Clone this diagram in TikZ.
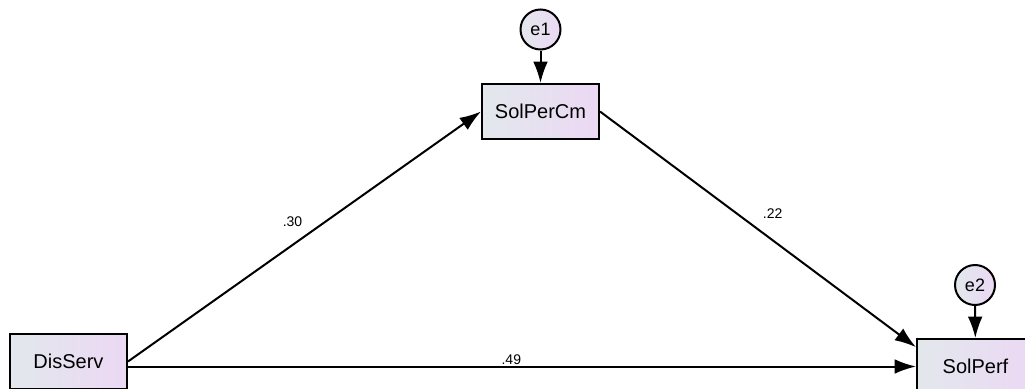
\documentclass[tikz,border=0pt]{standalone}
\usepackage{fontspec}
\setmainfont{Liberation Sans}
\usetikzlibrary{arrows.meta}
\definecolor{varleft}{RGB}{226,232,236}
\definecolor{varright}{RGB}{236,216,244}
\begin{document}
\begin{tikzpicture}[x=0.75pt,y=-0.75pt,>={Latex[length=16pt,width=11pt]},
    obs/.style={draw,line width=1.5pt,left color=varleft,right color=varright,
      minimum width=87.75pt,minimum height=41.25pt,font=\fontsize{15}{17}\selectfont},
    err/.style={circle,draw,line width=1.5pt,left color=varleft,right color=varright,
      minimum size=30pt,inner sep=0pt,font=\fontsize{13.5}{15}\selectfont},
    causal/.style={line width=1.5pt,->},
    coef/.style={font=\fontsize{10.5}{12}\selectfont,inner sep=1pt}]

      \useasboundingbox (0,0) rectangle (1025,389);
      \path (68.5,361.5) node [obs](var_disserv){DisServ};
      \path (540.5,111.5) node [obs](var_solpercm){SolPerCm};
      \path (975.5,366.5) node [obs](var_solperf){SolPerf};
      \path (540.5,29.5) node [err](var_e1){e1};
      \path (975,285) node [err](var_e2){e2};
      \draw[causal] (var_e1) -- (var_solpercm);
      \draw[causal] (var_e2) -- (var_solperf);
      \draw[causal] (var_disserv.east) -- node[coef,xshift=-9pt,yshift=11pt]{.30} (var_solpercm.west);
      \draw[causal] (var_solpercm.east) -- node[coef,xshift=11pt,yshift=12pt]{.22} (var_solperf.162);
      \draw[causal] (var_disserv.east |- var_solperf.west) -- node[coef,above,xshift=-8pt]{.49} (var_solperf.west);

    \end{tikzpicture}
\end{document}
